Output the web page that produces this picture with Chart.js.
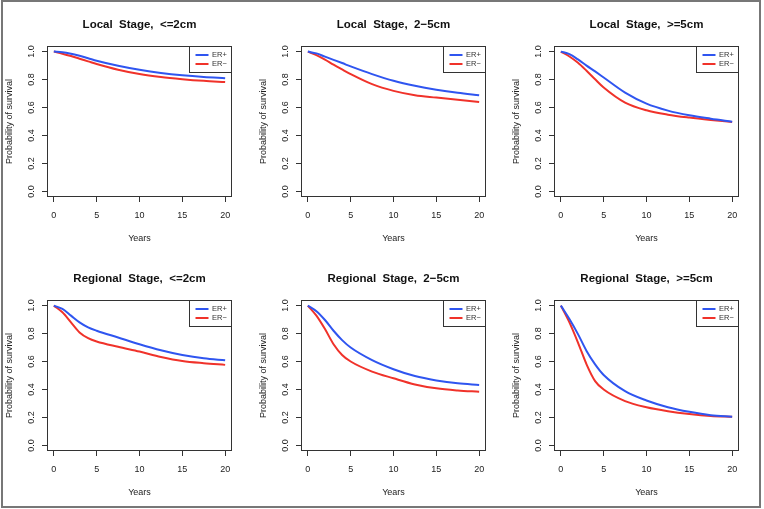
<!DOCTYPE html>
<html>
<head>
<meta charset="utf-8">
<script src="https://cdn.jsdelivr.net/npm/chart.js@4.4.0/dist/chart.umd.min.js"></script>
<style>
  html, body { margin: 0; padding: 0; background: #fff; }
  #page { position: relative; width: 764px; height: 509px; overflow: hidden; }
  #frame { position: absolute; left: 1px; top: 0px; width: 756px; height: 504px; border: 2px solid #777; }
  .cell { position: absolute; width: 254px; height: 254px; }
</style>
</head>
<body>
<div id="page"><div id="frame"></div></div>
<script>
// survival curves
var years = [0, 1, 2, 3, 4, 5, 7.5, 10, 12.5, 15, 17.5, 20];
var titles = [
    "Local  Stage,  <=2cm", "Local  Stage,  2\u22125cm", "Local  Stage,  >=5cm",
    "Regional  Stage,  <=2cm", "Regional  Stage,  2\u22125cm", "Regional  Stage,  >=5cm"
];
var seriesNames = ["ER+", "ER\u2212"];
var xTicks = [0, 5, 10, 15, 20];
var yTicks = [0, 0.2, 0.4, 0.6, 0.8, 1.0];

var localSmallPos = [1.0, 0.996, 0.985, 0.970, 0.953, 0.935, 0.899, 0.870, 0.847, 0.830, 0.818, 0.810];
var localSmallNeg = [1.0, 0.985, 0.968, 0.949, 0.930, 0.911, 0.870, 0.839, 0.818, 0.803, 0.791, 0.782];
var localMidPos   = [1.0, 0.987, 0.964, 0.941, 0.918, 0.894, 0.839, 0.791, 0.755, 0.727, 0.705, 0.688];
var localMidNeg   = [1.0, 0.975, 0.943, 0.906, 0.872, 0.839, 0.767, 0.719, 0.688, 0.671, 0.655, 0.640];
var localBigPos   = [1.0, 0.982, 0.944, 0.900, 0.858, 0.815, 0.707, 0.628, 0.578, 0.544, 0.520, 0.499];
var localBigNeg   = [1.0, 0.965, 0.920, 0.863, 0.802, 0.743, 0.635, 0.580, 0.549, 0.528, 0.511, 0.496];
var regSmallPos   = [1.0, 0.976, 0.928, 0.880, 0.844, 0.820, 0.772, 0.724, 0.681, 0.647, 0.623, 0.609];
var regSmallNeg   = [1.0, 0.952, 0.880, 0.808, 0.767, 0.743, 0.705, 0.671, 0.633, 0.604, 0.588, 0.576];
var regMidPos     = [1.0, 0.960, 0.897, 0.820, 0.753, 0.700, 0.610, 0.545, 0.496, 0.465, 0.444, 0.432];
var regMidNeg     = [1.0, 0.928, 0.832, 0.724, 0.647, 0.600, 0.528, 0.480, 0.436, 0.408, 0.393, 0.384];
var regBigPos     = [1.0, 0.904, 0.796, 0.676, 0.580, 0.504, 0.388, 0.321, 0.273, 0.240, 0.216, 0.205];
var regBigNeg     = [1.0, 0.880, 0.736, 0.580, 0.460, 0.400, 0.317, 0.273, 0.245, 0.225, 0.211, 0.205];

var panels = [
    [localSmallPos, localSmallNeg], [localMidPos, localMidNeg], [localBigPos, localBigNeg],
    [regSmallPos, regSmallNeg], [regMidPos, regMidNeg], [regBigPos, regBigNeg]
];
var colors = ["#2f55f0", "#f0322a"];

var cellLeft = [0, 254, 507];
var cellTop = [0, 254];
var font = '"Liberation Sans", Arial, Helvetica, sans-serif';
Chart.defaults.font.family = font;

// R-like box around the plot region plus the little legend box
var rBox = {
    id: "rBox",
    afterDatasetsDraw: function (chart) {
        var a = chart.chartArea, c = chart.ctx;
        c.save();
        c.strokeStyle = "#333";
        c.lineWidth = 1;
        c.strokeRect(Math.round(a.left) + 0.5, Math.round(a.top) + 0.5,
            Math.round(a.right - a.left) - 1, Math.round(a.bottom - a.top) - 1);
        var w = 43, h = 27;
        var x = Math.round(a.right) - w, y = Math.round(a.top);
        c.fillStyle = "#fff";
        c.fillRect(x + 0.5, y + 0.5, w - 1, h - 1);
        c.strokeRect(x + 0.5, y + 0.5, w - 1, h - 1);
        c.font = "7.5px " + font;
        c.textBaseline = "middle";
        chart.data.datasets.forEach(function (ds, i) {
            var ly = y + 9 + i * 9;
            c.strokeStyle = ds.borderColor;
            c.lineWidth = 2;
            c.beginPath();
            c.moveTo(x + 6.5, ly);
            c.lineTo(x + 19.5, ly);
            c.stroke();
            c.fillStyle = "#333";
            c.fillText(ds.label, x + 23, ly);
        });
        c.restore();
    }
};

panels.forEach(function (p, k) {
    var div = document.createElement("div");
    div.className = "cell";
    div.style.left = cellLeft[k % 3] + "px";
    div.style.top = cellTop[Math.floor(k / 3)] + "px";
    var cv = document.createElement("canvas");
    cv.width = 254;
    cv.height = 254;
    div.appendChild(cv);
    document.getElementById("page").appendChild(div);

    var datasets = p.map(function (vals, i) {
        return {
            label: seriesNames[i],
            data: years.map(function (t, j) { return { x: t, y: vals[j] }; }),
            borderColor: colors[i],
            borderWidth: 2,
            pointRadius: 0,
            cubicInterpolationMode: "monotone",
            fill: false
        };
    });

    new Chart(cv, {
        type: "line",
        data: { datasets: datasets },
        options: {
            responsive: false,
            animation: false,
            events: [],
            layout: { padding: { left: 0, top: 0, right: 22, bottom: 0 } },
            plugins: {
                legend: { display: false },
                tooltip: { enabled: false },
                title: {
                    display: true,
                    text: titles[k],
                    fullSize: false,
                    color: "#111",
                    font: { size: 11.5, weight: "bold" },
                    padding: { top: 17.6, bottom: 14.6 }
                }
            },
            scales: {
                x: {
                    type: "linear",
                    min: -0.8,
                    max: 20.8,
                    afterFit: function (s) { s.height = 57; },
                    afterBuildTicks: function (s) { s.ticks = xTicks.map(function (v) { return { value: v }; }); },
                    ticks: { color: "#222", font: { size: 9 }, padding: 8, maxRotation: 0, autoSkip: false },
                    grid: { drawOnChartArea: false, drawTicks: true, tickLength: 5, color: "#333" },
                    border: { display: false },
                    title: { display: true, text: "Years", color: "#222", font: { size: 9 }, padding: { top: 0, bottom: 10 } }
                },
                y: {
                    type: "linear",
                    min: -0.04,
                    max: 1.04,
                    afterFit: function (s) { s.width = 47; },
                    afterBuildTicks: function (s) { s.ticks = yTicks.map(function (v) { return { value: v }; }); },
                    ticks: {
                        color: "#222", font: { size: 9 }, padding: 4, autoSkip: false,
                        minRotation: 90, maxRotation: 90, crossAlign: "center",
                        callback: function (v) { return v.toFixed(1); }
                    },
                    grid: { drawOnChartArea: false, drawTicks: true, tickLength: 5, color: "#333" },
                    border: { display: false },
                    title: { display: true, text: "Probability of survival", color: "#222", font: { size: 9 }, padding: { top: 4.6, bottom: 0 } }
                }
            }
        },
        plugins: [rBox]
    });
});
</script>
</body>
</html>
